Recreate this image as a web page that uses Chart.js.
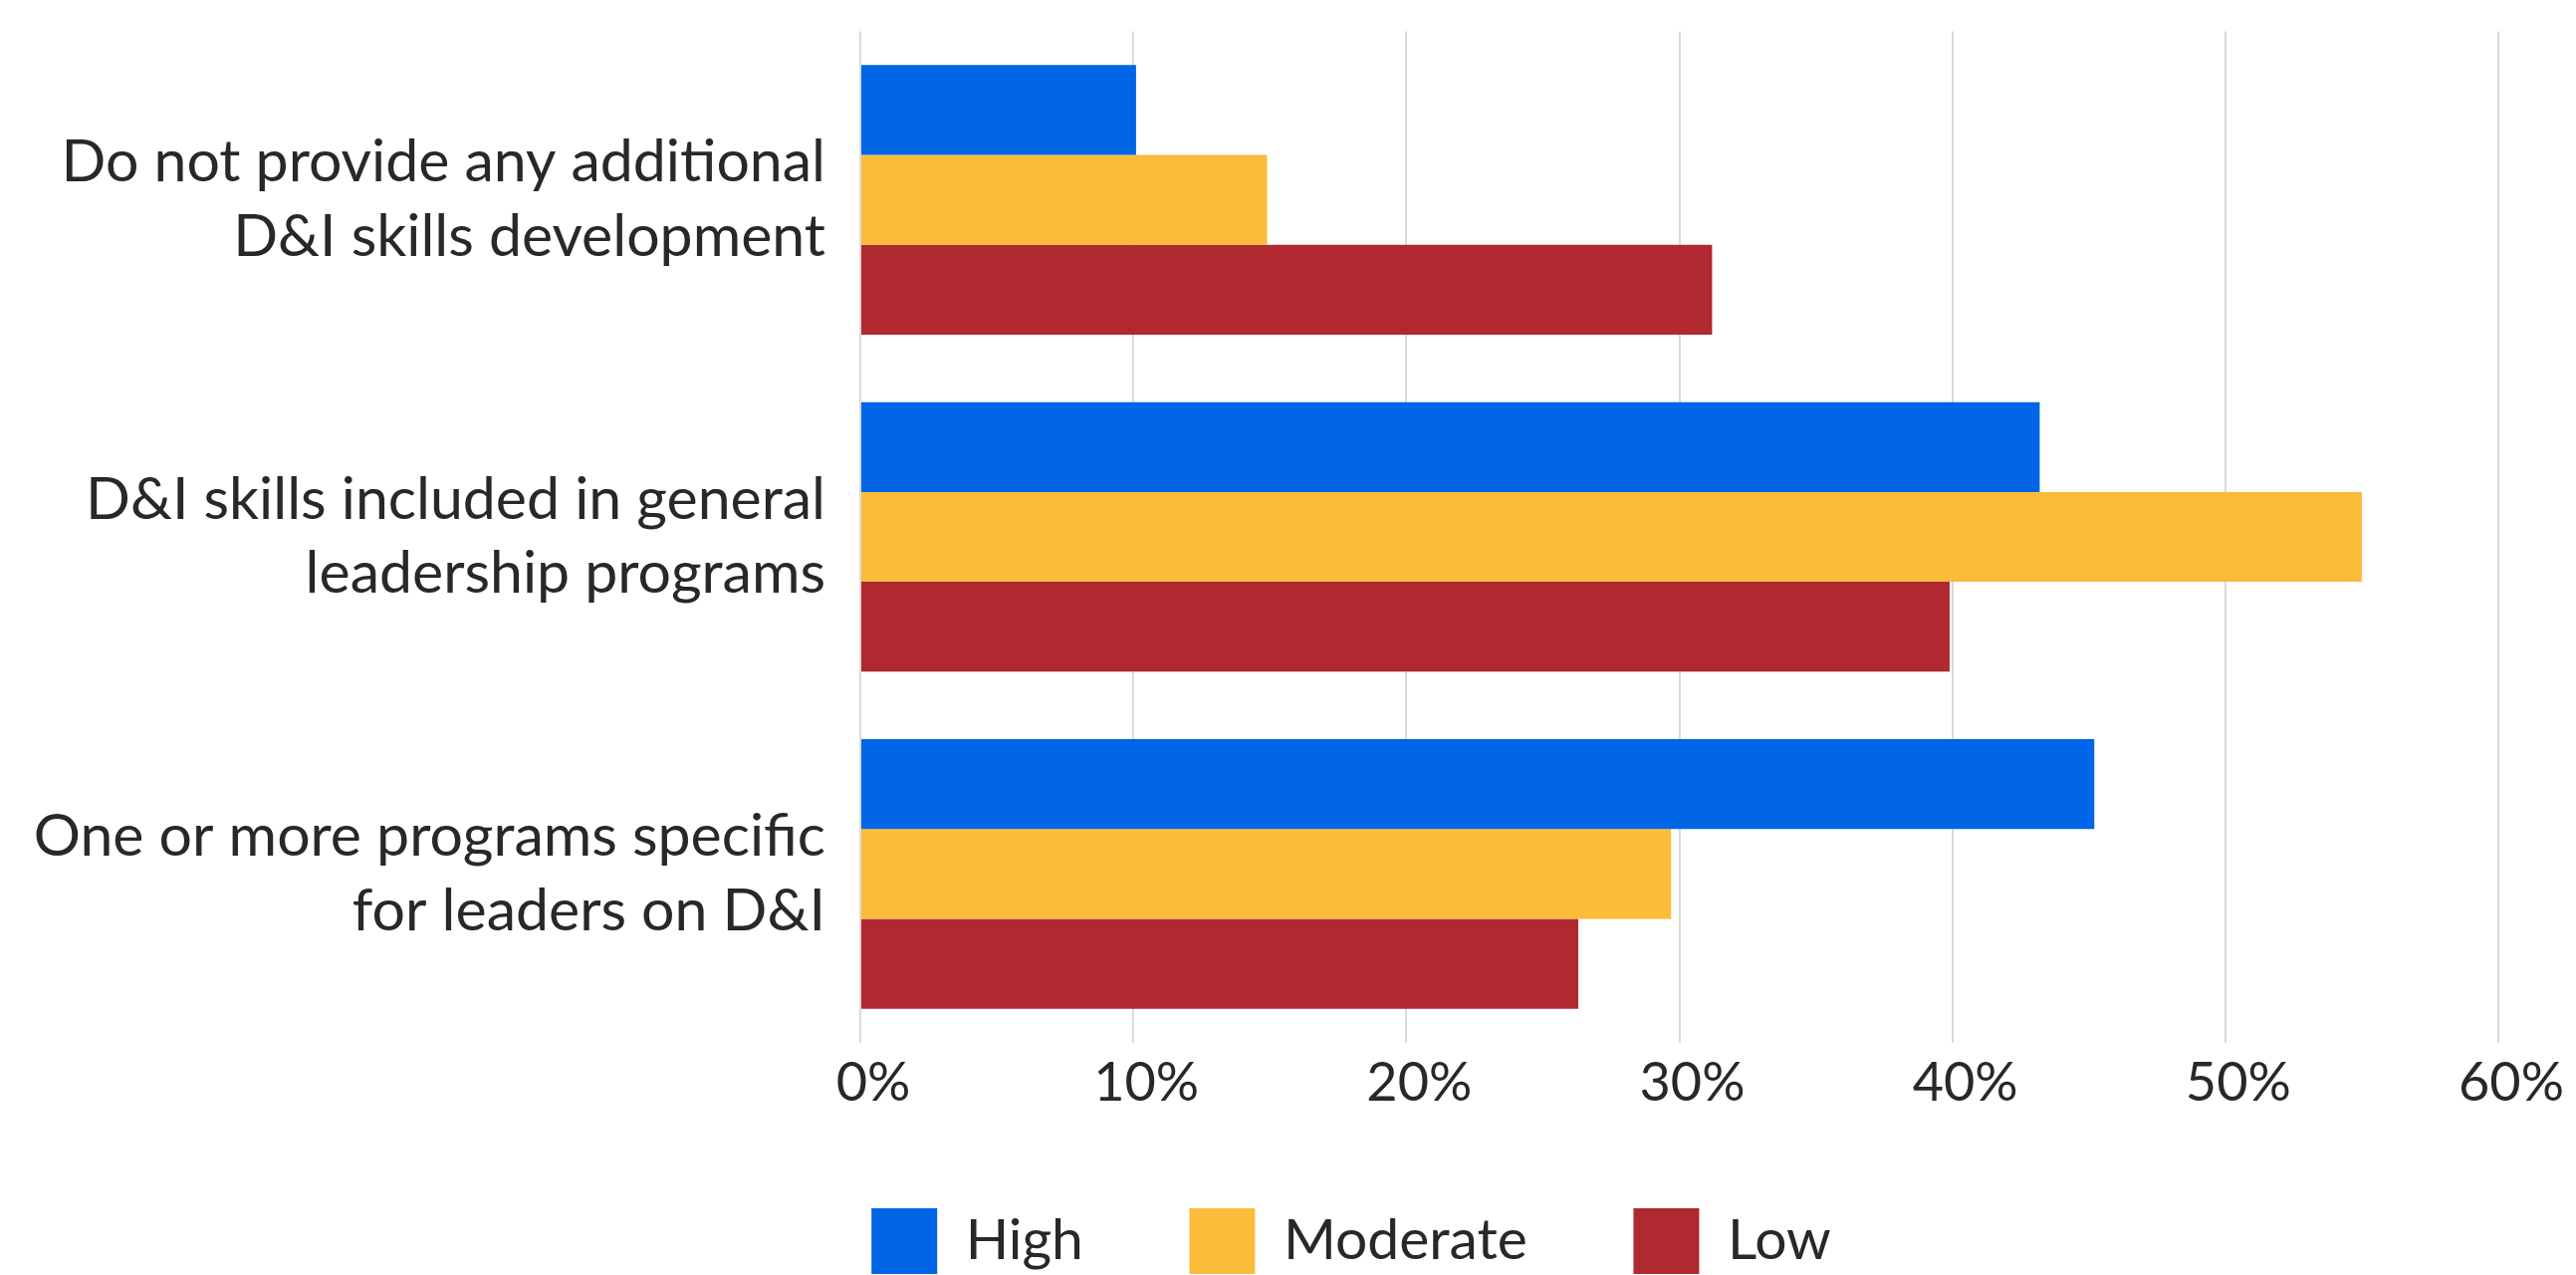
<!DOCTYPE html>
<html><head><meta charset="utf-8">
<script src="https://cdn.jsdelivr.net/npm/chart.js@4"></script>
<style>html,body{margin:0;padding:0;background:#fff}canvas{display:block}</style>
</head><body>
<canvas id="c" width="2587" height="1280"></canvas>
<script>
const categories = [
  ["Do not provide any additional", "D&I skills development"],
  ["D&I skills included in general", "leadership programs"],
  ["One or more programs specific", "for leaders on D&I"]
];
const seriesNames = ["High", "Moderate", "Low"];
const highValues = [10.1, 43.2, 45.2];
const moderateValues = [14.9, 55.0, 29.7];
const lowValues = [31.2, 39.9, 26.3];
const xTickMin = 0, xTickMax = 60, xTickStep = 10;
const seriesColors = ["#0065e6", "#fbbc3a", "#b02830"];
const textColor = "#2b2724";
const fontFamily = "Lato";

const seriesValues = [highValues, moderateValues, lowValues];

new Chart(document.getElementById('c'), {
  type: 'bar',
  data: {
    labels: categories,
    datasets: seriesNames.map((n, i) => ({
      label: n,
      data: seriesValues[i],
      backgroundColor: seriesColors[i],
      borderWidth: 0,
      barPercentage: 1.0,
      categoryPercentage: 0.8
    }))
  },
  options: {
    indexAxis: 'y',
    responsive: false,
    animation: false,
    devicePixelRatio: 1,
    layout: { padding: { left: 10, right: -117, top: 31.5, bottom: -9 } },
    scales: {
      x: {
        min: xTickMin, max: xTickMax,
        ticks: {
          stepSize: xTickStep,
          callback: v => v + '%',
          font: { family: fontFamily, size: 54 },
          color: textColor,
          padding: 9,
          labelOffset: 13,
          maxRotation: 0
        },
        grid: { color: '#dadada', lineWidth: 2, drawTicks: false },
        border: { display: false },
        afterFit: s => { s.height = 60; s.paddingLeft = 0; s.paddingRight = 78; }
      },
      y: {
        ticks: {
          font: { family: fontFamily, size: 59, lineHeight: 1.27 },
          color: textColor,
          padding: 27
        },
        grid: { display: false },
        border: { display: false },
        afterFit: s => { s.width = 854; s.paddingTop = 0; s.paddingBottom = 0; }
      }
    },
    plugins: {
      legend: {
        position: 'bottom',
        labels: {
          boxWidth: 66, boxHeight: 66, padding: 106.5,
          font: { family: fontFamily, size: 57 },
          color: textColor
        }
      },
      tooltip: { enabled: false }
    }
  }
});
</script>
</body></html>
